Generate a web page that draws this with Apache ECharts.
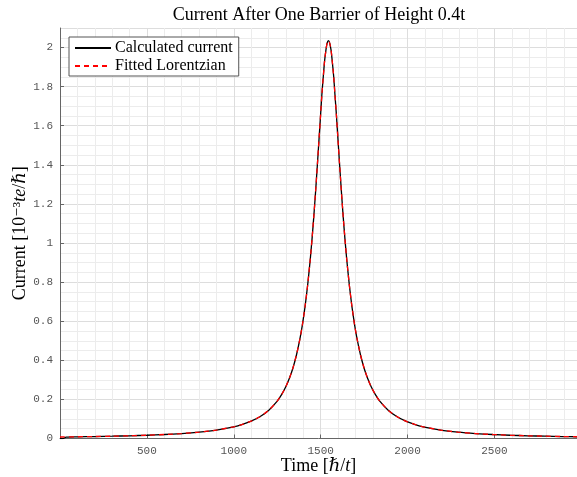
<!DOCTYPE html>
<html>
<head>
<meta charset="utf-8">
<script src="https://cdn.jsdelivr.net/npm/echarts@6/dist/echarts.min.js"></script>
<style>
  html, body { margin: 0; padding: 0; background: #fff; }
  #main { width: 577px; height: 477px; }
</style>
</head>
<body>
<div id="main"></div>
<script>
// 数据
var timeCalc = [0, 20, 35, 100, 200, 300, 400, 500, 600, 700, 800, 900, 1000, 1050, 1100, 1150, 1200, 1250, 1275, 1300, 1320, 1340, 1360, 1380, 1395, 1410, 1425, 1440, 1450, 1460, 1470, 1480, 1490, 1500, 1507, 1515, 1522, 1530, 1537, 1545, 1552, 1560, 1567, 1575, 1582, 1590, 1600, 1610, 1620, 1630, 1640, 1650, 1665, 1680, 1695, 1710, 1730, 1750, 1770, 1790, 1815, 1840, 1890, 1940, 1990, 2040, 2090, 2190, 2290, 2390, 2490, 2590, 2690, 2790, 2890, 2975];
var currentCalc = [0, 0.001, 0.0075, 0.0088, 0.0101, 0.0118, 0.0139, 0.0167, 0.0204, 0.0254, 0.0326, 0.0432, 0.0600, 0.0723, 0.0887, 0.1113, 0.1434, 0.1912, 0.2242, 0.266, 0.3079, 0.3597, 0.4247, 0.5066, 0.5826, 0.674, 0.784, 0.916, 1.0175, 1.130, 1.2537, 1.386, 1.524, 1.662, 1.7607, 1.8505, 1.927, 1.9855, 2.0224, 2.035, 2.0224, 1.9855, 1.927, 1.8505, 1.7607, 1.662, 1.524, 1.386, 1.2537, 1.130, 1.0175, 0.916, 0.784, 0.674, 0.5826, 0.5066, 0.4247, 0.3597, 0.3079, 0.266, 0.2242, 0.1912, 0.1434, 0.1113, 0.0887, 0.0723, 0.0600, 0.0432, 0.0326, 0.0254, 0.0204, 0.0167, 0.0139, 0.0118, 0.0101, 0.0090];
var timeFit = [0, 100, 200, 300, 400, 500, 600, 700, 800, 900, 1000, 1050, 1100, 1150, 1200, 1250, 1275, 1300, 1320, 1340, 1360, 1380, 1395, 1410, 1425, 1440, 1450, 1460, 1470, 1480, 1490, 1500, 1507, 1515, 1522, 1530, 1537, 1545, 1552, 1560, 1567, 1575, 1582, 1590, 1600, 1610, 1620, 1630, 1640, 1650, 1665, 1680, 1695, 1710, 1730, 1750, 1770, 1790, 1815, 1840, 1890, 1940, 1990, 2040, 2090, 2190, 2290, 2390, 2490, 2590, 2690, 2790, 2890, 2975];
var currentFit = [0.0077, 0.0088, 0.0101, 0.0118, 0.0139, 0.0167, 0.0204, 0.0254, 0.0326, 0.0432, 0.0600, 0.0723, 0.0887, 0.1113, 0.1434, 0.1912, 0.2242, 0.266, 0.3079, 0.3597, 0.4247, 0.5066, 0.5826, 0.674, 0.784, 0.916, 1.0175, 1.130, 1.2537, 1.386, 1.524, 1.662, 1.7607, 1.8505, 1.927, 1.9855, 2.0224, 2.035, 2.0224, 1.9855, 1.927, 1.8505, 1.7607, 1.662, 1.524, 1.386, 1.2537, 1.130, 1.0175, 0.916, 0.784, 0.674, 0.5826, 0.5066, 0.4247, 0.3597, 0.3079, 0.266, 0.2242, 0.1912, 0.1434, 0.1113, 0.0887, 0.0723, 0.0600, 0.0432, 0.0326, 0.0254, 0.0204, 0.0167, 0.0139, 0.0118, 0.0101, 0.0090];
var seriesNames = ['Calculated current', 'Fitted Lorentzian'];

function pairs(xs, ys) {
    return xs.map(function (x, i) { return [x, ys[i]]; });
}

var serif = '"Liberation Serif", "DejaVu Serif", serif';
var mono = '"Liberation Mono", "DejaVu Sans Mono", monospace';

var myChart = echarts.init(document.getElementById('main'));

var option = {
    animation: false,
    title: {
        text: 'Current After One Barrier of Height 0.4t',
        left: 314,
        textAlign: 'center',
        top: 1,
        textStyle: { fontFamily: serif, fontSize: 18, fontWeight: 'normal', color: '#000' }
    },
    legend: {
        left: 69,
        top: 37,
        orient: 'vertical',
        itemWidth: 36,
        itemHeight: 10,
        itemGap: 2,
        padding: [3, 6, 2, 5],
        backgroundColor: '#fff',
        borderColor: '#555',
        borderWidth: 1,
        borderRadius: 0,
        itemStyle: { opacity: 0, borderWidth: 0 },
        textStyle: { fontFamily: serif, fontSize: 16, color: '#000', padding: [0, 0, 0, -1] },
        data: seriesNames
    },
    grid: { left: 60, right: 0, top: 28, bottom: 38.5, containLabel: false, outerBoundsMode: 'none' },
    xAxis: {
        type: 'value',
        min: 0,
        max: 2975,
        interval: 500,
        name: 'Time [ℏ/{i|t}]',
        nameLocation: 'middle',
        nameGap: 19,
        nameMoveOverlap: false,
        nameTextStyle: {
            fontFamily: serif, fontSize: 18, color: '#000',
            rich: { i: { fontFamily: serif, fontSize: 18, fontStyle: 'italic', color: '#000' } }
        },
        axisLine: { show: true, onZero: false, lineStyle: { color: '#666', width: 1 } },
        axisTick: { show: true, inside: true, length: 4, lineStyle: { color: '#666' } },
        axisLabel: {
            showMinLabel: false, showMaxLabel: false, margin: 7,
            fontFamily: mono, fontSize: 11, color: '#555',
            formatter: function (v) { return String(v); }
        },
        splitLine: { show: true, lineStyle: { color: '#dddddd', width: 1 } },
        minorTick: { show: false, splitNumber: 5 },
        minorSplitLine: { show: true, lineStyle: { color: '#ececec', width: 1 } }
    },
    yAxis: {
        type: 'value',
        min: 0,
        max: 2.1,
        interval: 0.2,
        name: 'Current [10⁻³{i|te}/ℏ]',
        nameLocation: 'middle',
        nameGap: 31,
        nameMoveOverlap: false,
        nameTextStyle: {
            fontFamily: serif, fontSize: 18, color: '#000',
            rich: { i: { fontFamily: serif, fontSize: 18, fontStyle: 'italic', color: '#000' } }
        },
        axisLine: { show: true, onZero: false, lineStyle: { color: '#666', width: 1 } },
        axisTick: { show: true, inside: true, length: 4, lineStyle: { color: '#666' } },
        axisLabel: {
            showMaxLabel: false, margin: 7,
            fontFamily: mono, fontSize: 11, color: '#555',
            formatter: function (v) { return String(Math.round(v * 10) / 10); }
        },
        splitLine: { show: true, lineStyle: { color: '#dddddd', width: 1 } },
        minorTick: { show: false, splitNumber: 4 },
        minorSplitLine: { show: true, lineStyle: { color: '#ececec', width: 1 } }
    },
    series: [
        {
            name: seriesNames[0],
            type: 'line',
            showSymbol: false,
            symbol: 'none',
            smooth: 0.2,
            color: '#000',
            lineStyle: { color: '#000', width: 1.3 },
            data: pairs(timeCalc, currentCalc)
        },
        {
            name: seriesNames[1],
            type: 'line',
            showSymbol: false,
            symbol: 'none',
            smooth: 0.2,
            color: '#ff0000',
            lineStyle: { color: '#ff0000', width: 1.3, type: [5, 4] },
            data: pairs(timeFit, currentFit)
        }
    ]
};

myChart.setOption(option);
</script>
</body>
</html>
